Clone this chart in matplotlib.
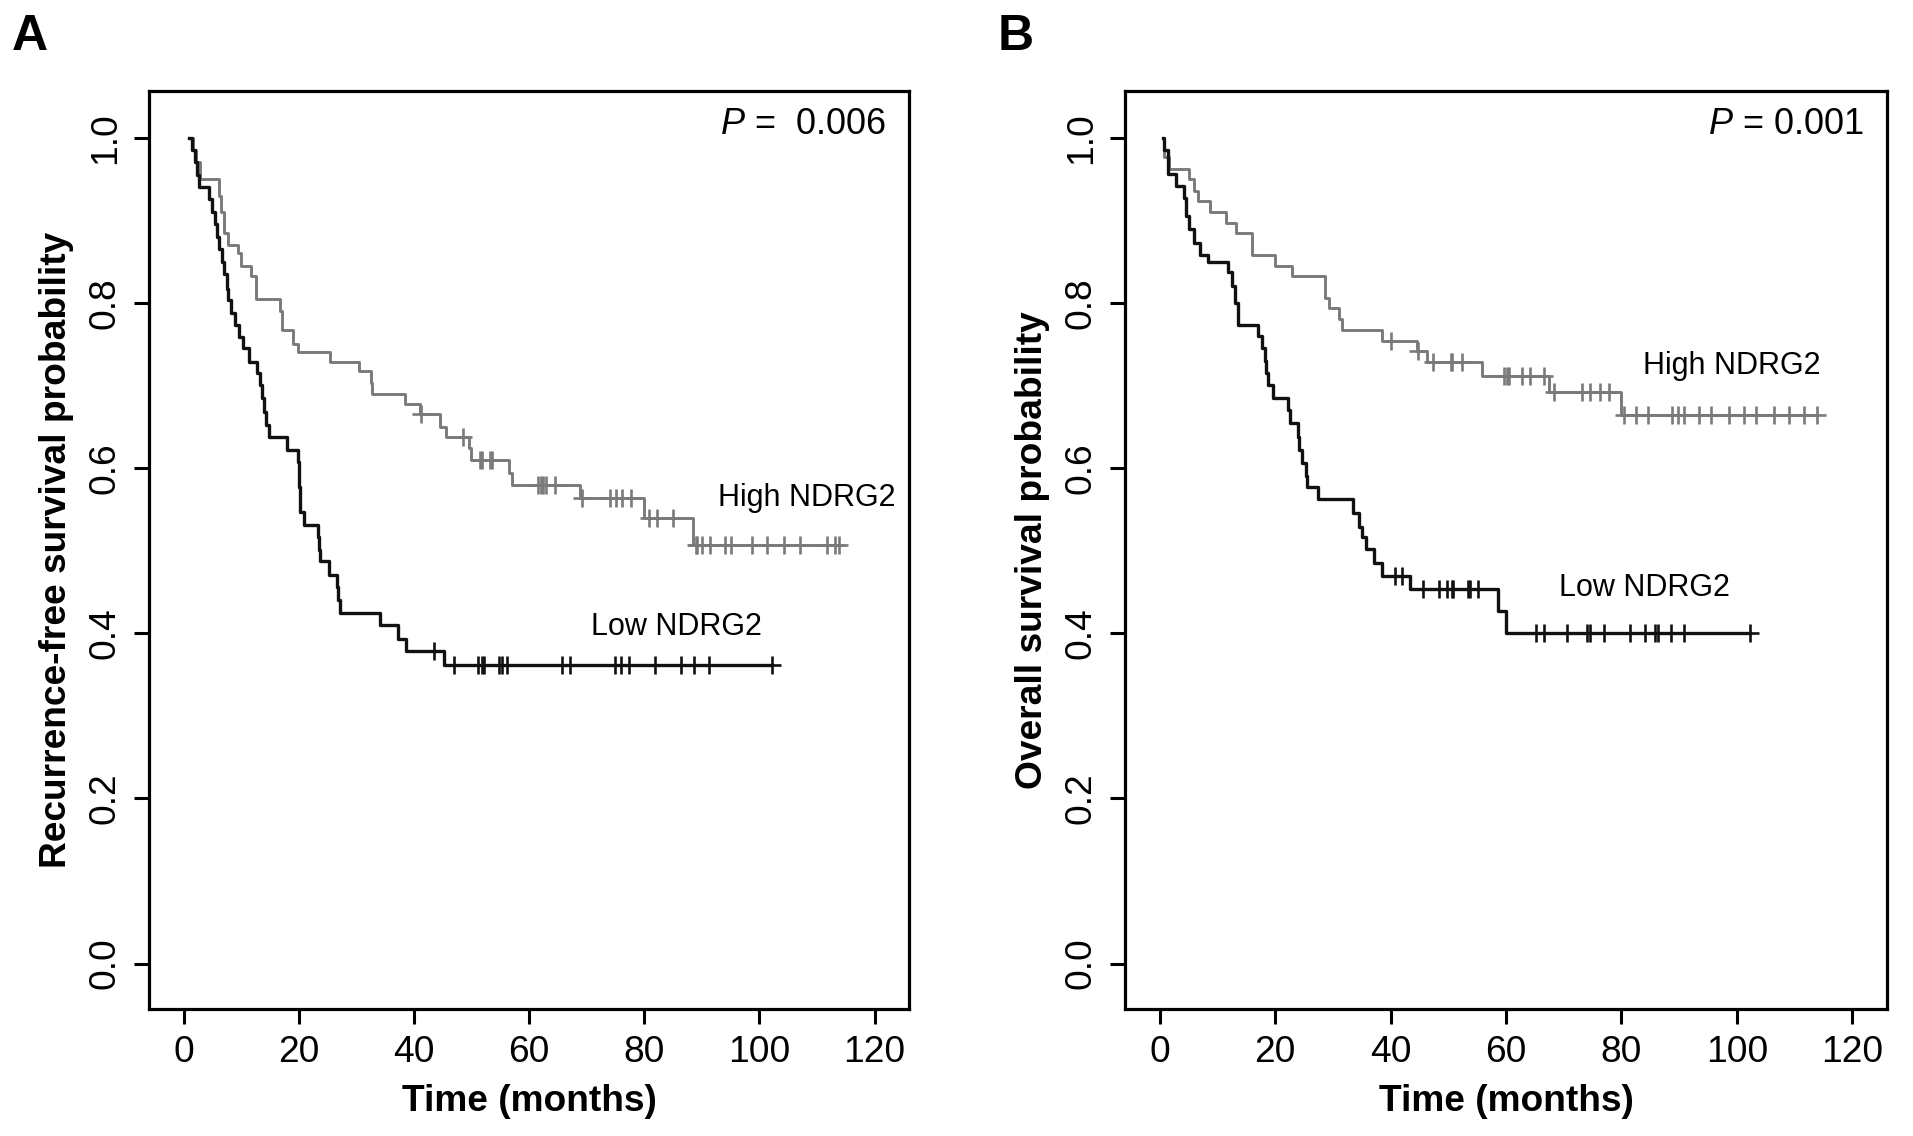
import numpy as np
import matplotlib
matplotlib.use("Agg")
import matplotlib.pyplot as plt
from matplotlib import font_manager
from matplotlib.ticker import FormatStrFormatter

# ---- data ----
# panel A: recurrence-free survival
rfs_high_t = [1.0, 1.7, 2.2, 2.8, 6.1, 6.5, 7.0, 7.8, 9.5, 10.0, 11.7, 12.5, 16.8, 17.1,
              19.0, 19.9, 25.5, 30.5, 32.5, 32.8, 38.5, 41.0, 44.5, 45.6, 49.6, 50.0,
              56.5, 57.0, 68.8, 79.9, 88.4]
rfs_high_s = [1.0, 0.985, 0.97, 0.95, 0.93, 0.91, 0.885, 0.87, 0.86, 0.845, 0.833, 0.805,
              0.79, 0.767, 0.75, 0.74, 0.728, 0.717, 0.703, 0.69, 0.678, 0.665, 0.65,
              0.637, 0.624, 0.61, 0.594, 0.58, 0.564, 0.539, 0.507]
rfs_high_end = 113.8
rfs_high_cens = [41.2, 48.5, 51.4, 51.9, 53.3, 53.6, 61.5, 62.0, 62.5, 63.0, 64.5, 69.2,
                 74.0, 75.1, 76.2, 77.7, 80.8, 82.2, 85.0, 89.0, 89.2, 90.1, 91.5, 94.0,
                 95.1, 98.8, 101.4, 104.2, 107.0, 111.8, 113.2, 113.8]

rfs_low_t = [1.0, 1.5, 2.0, 2.4, 2.7, 4.4, 5.0, 5.4, 5.8, 6.2, 6.65, 7.0, 7.5, 7.8, 8.3,
             8.9, 9.7, 10.4, 11.4, 12.8, 13.2, 13.6, 14.0, 14.3, 14.8, 18.0, 19.9, 20.0,
             20.1, 20.2, 20.3, 21.0, 23.3, 23.5, 23.7, 25.3, 26.6, 26.8, 27.2, 34.2,
             37.3, 38.6, 45.3]
rfs_low_s = [1.0, 0.985, 0.97, 0.955, 0.94, 0.926, 0.91, 0.895, 0.88, 0.865, 0.85, 0.835,
             0.817, 0.803, 0.788, 0.773, 0.759, 0.745, 0.729, 0.715, 0.70, 0.685, 0.668,
             0.652, 0.637, 0.622, 0.607, 0.592, 0.577, 0.562, 0.547, 0.531, 0.516, 0.501,
             0.487, 0.471, 0.456, 0.44, 0.424, 0.41, 0.393, 0.378, 0.362]
rfs_low_end = 102.2
rfs_low_cens = [43.5, 46.9, 51.2, 51.8, 52.2, 54.7, 55.3, 56.1, 65.8, 67.2, 74.9, 76.0,
                77.4, 81.9, 86.4, 88.7, 91.2, 102.2]

# panel B: overall survival
os_high_t = [0.5, 0.8, 1.6, 5.1, 5.9, 6.7, 8.7, 11.5, 13.3, 16.0, 20.0, 23.0, 28.7, 29.4,
             31.1, 31.6, 38.5, 44.6, 46.3, 55.9, 67.5, 79.9]
os_high_s = [1.0, 0.977, 0.962, 0.95, 0.935, 0.923, 0.91, 0.897, 0.884, 0.858, 0.845,
             0.832, 0.806, 0.794, 0.781, 0.767, 0.754, 0.742, 0.728, 0.712, 0.692, 0.664]
os_high_end = 113.8
os_high_cens = [40.0, 44.8, 47.3, 50.4, 50.7, 52.4, 59.7, 60.2, 60.5, 62.8, 64.2, 66.5,
                68.4, 73.1, 74.6, 76.2, 77.8, 80.4, 82.5, 84.6, 88.7, 89.8, 90.8, 93.4,
                95.5, 98.6, 101.3, 103.3, 106.5, 109.1, 111.7, 113.8]

os_low_t = [0.5, 0.8, 1.5, 2.9, 4.2, 4.6, 5.0, 5.9, 7.0, 8.4, 11.8, 12.6, 13.0, 13.5, 17.1,
            17.7, 18.3, 18.5, 18.8, 19.7, 22.2, 22.5, 23.9, 24.2, 24.6, 25.3, 25.6, 27.5,
            33.5, 34.6, 35.0, 35.7, 37.2, 38.6, 43.3, 58.6, 60.0]
os_low_s = [1.0, 0.985, 0.956, 0.942, 0.927, 0.905, 0.89, 0.873, 0.858, 0.85, 0.837, 0.82,
            0.80, 0.773, 0.76, 0.745, 0.73, 0.715, 0.70, 0.685, 0.67, 0.654, 0.638, 0.622,
            0.606, 0.59, 0.577, 0.562, 0.545, 0.529, 0.516, 0.502, 0.485, 0.469, 0.454,
            0.427, 0.40]
os_low_end = 102.3
os_low_cens = [40.8, 41.9, 45.6, 48.4, 49.8, 50.7, 50.9, 53.5, 53.8, 55.2, 65.2, 66.6, 70.5,
               74.1, 74.6, 77.0, 81.4, 84.0, 85.8, 86.3, 88.5, 90.8, 102.3]

x_ticks = [0, 20, 40, 60, 80, 100, 120]
y_ticks = [0.0, 0.2, 0.4, 0.6, 0.8, 1.0]

# ---- fonts ----
names = {f.name for f in font_manager.fontManager.ttflist}
if "Liberation Sans Narrow" in names:
    narrow, k = "Liberation Sans Narrow", 1.0
else:
    narrow, k = "Liberation Sans", 0.81
plt.rcParams["font.family"] = "Liberation Sans"
plt.rcParams["mathtext.fontset"] = "custom"
plt.rcParams["mathtext.rm"] = "Liberation Sans"
plt.rcParams["mathtext.it"] = "Liberation Sans:italic"

HIGH_C = "#7a7a7a"
LOW_C = "#111111"


def km(ax, t, s, end, cens, color, lw):
    t = np.asarray(t)
    s = np.asarray(s)
    ax.step(np.append(t, end), np.append(s, s[-1]), where="post", color=color, lw=lw, zorder=3)
    c = np.asarray(cens)
    cy = s[np.searchsorted(t, c, side="right") - 1]
    ax.plot(c, cy, ls="none", marker="+", ms=13, mew=1.9, color=color, zorder=4)


def panel(ax, ylabel, ptext, high, low, high_pos, low_pos):
    km(ax, *high, HIGH_C, 2.1)
    km(ax, *low, LOW_C, 2.4)
    ax.set_xlim(-6, 126)
    ax.set_ylim(-0.055, 1.056)
    ax.set_xticks(x_ticks)
    ax.set_yticks(y_ticks)
    ax.yaxis.set_major_formatter(FormatStrFormatter("%.1f"))
    for sp in ax.spines.values():
        sp.set_linewidth(2.3)
    ax.tick_params(length=11, width=2.2, labelsize=33 * k, pad=8)
    for lab in ax.get_xticklabels() + ax.get_yticklabels():
        lab.set_fontfamily(narrow)
    ax.tick_params(axis="y", labelrotation=90)
    for lab in ax.get_yticklabels():
        lab.set_va("center")
    ax.set_xlabel("Time (months)", fontsize=33 * k, fontweight="bold", family=narrow, labelpad=10)
    ax.set_ylabel(ylabel, fontsize=33 * k, fontweight="bold", family=narrow, labelpad=10)
    ax.text(122, 1.016, ptext, fontsize=26, ha="right", va="center")
    ax.text(high_pos[0], high_pos[1], "High NDRG2", fontsize=22, ha="left", va="center")
    ax.text(low_pos[0], low_pos[1], "Low NDRG2", fontsize=22, ha="left", va="center")


fig = plt.figure(figsize=(19.13, 11.36), dpi=100)
axA = fig.add_axes([0.0779, 0.1118, 0.3973, 0.8077])
axB = fig.add_axes([0.5881, 0.1118, 0.3983, 0.8077])

panel(axA, "Recurrence-free survival probability", r"$P$ =  0.006",
      (rfs_high_t, rfs_high_s, rfs_high_end, rfs_high_cens),
      (rfs_low_t, rfs_low_s, rfs_low_end, rfs_low_cens),
      (92.8, 0.564), (70.8, 0.408))
panel(axB, "Overall survival probability", r"$P$ = 0.001",
      (os_high_t, os_high_s, os_high_end, os_high_cens),
      (os_low_t, os_low_s, os_low_end, os_low_cens),
      (83.8, 0.724), (69.1, 0.455))

fig.text(12 / 1913, 1 - 37 / 1136, "A", fontsize=36, fontweight="bold", ha="left", va="center")
fig.text(998 / 1913, 1 - 37 / 1136, "B", fontsize=36, fontweight="bold", ha="left", va="center")

fig.savefig("out.png", dpi=100)
